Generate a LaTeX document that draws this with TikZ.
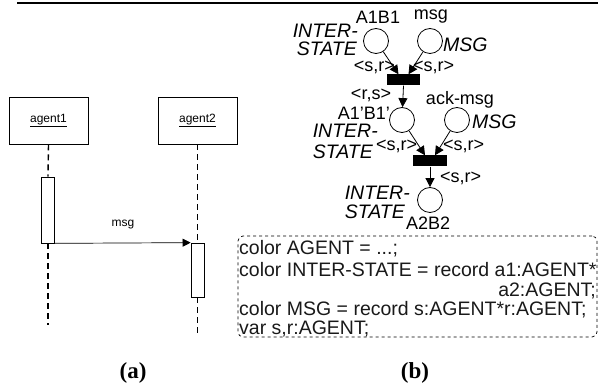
\documentclass[tikz,border=0pt]{standalone}
\usepackage{fontspec}
\setmainfont{Liberation Sans}
\newfontfamily\capfont{Liberation Serif}
\usetikzlibrary{arrows.meta}
\begin{document}
\begin{tikzpicture}[x=1pt,y=-1pt,
  lbl/.style={inner sep=0pt, font=\fontsize{18}{18}\selectfont},
  typ/.style={inner sep=0pt, font=\fontsize{19.5}{19.5}\selectfont\itshape},
  place/.style={draw, circle, minimum size=25pt, inner sep=0pt, line width=0.8pt},
  trans/.style={fill=black, minimum height=11pt, inner sep=0pt},
  arc/.style={line width=0.8pt, -{Triangle[length=9pt,width=9pt]}},
  obj/.style={draw, minimum width=79pt, minimum height=47pt, inner sep=0pt, line width=0.7pt, font=\fontsize{12}{12}\selectfont},
  act/.style={draw, fill=white, minimum width=13pt, inner sep=0pt, line width=0.7pt},
  life/.style={line width=1.4pt, dash pattern=on 6pt off 4pt},
  code/.style={inner sep=0pt, font=\fontsize{19.5}{19.5}\selectfont, text=black!90},
  captxt/.style={inner sep=0pt, font=\capfont\bfseries\fontsize{23}{23}\selectfont}
]
\useasboundingbox (0,0) rectangle (598,387);
% top rule
\coordinate (r0) at (17,3);
\coordinate (r1) at (598,3);
\draw[line width=2pt] (r0) -- (r1);

% ---------- (a) sequence diagram ----------
\node[obj] (ag1) at (48.5,120.5) {\underline{agent1}};
\node[obj] (ag2) at (197.5,120.5) {\underline{agent2}};
\node[act, minimum height=66pt] (act1) at (48,210) {};
\node[act, minimum height=54pt] (act2) at (197.5,270) {};
\coordinate (end1) at (48,325);
\coordinate (end2) at (197.5,337);
\draw[life] (ag1.south) -- (act1.north);
\draw[life] (act1.south) -- (end1);
\draw[life] (ag2.south) -- (act2.north);
\draw[life] (act2.south) -- (end2);
\draw[line width=0.7pt, -{Triangle[length=8pt,width=8pt]}] (act1.south east) -- (act2.north west);
\node[inner sep=0pt, font=\fontsize{12}{12}\selectfont] (msglbl) at (123,225) {msg};
\node[captxt] (capa) at (133,373) {(a)};

% ---------- (b) Petri net ----------
\node[place] (p1) at (376,41) {};
\node[place] (p2) at (430,41) {};
\node[trans, minimum width=33pt] (t1) at (403.5,80) {};
\node[place] (p3) at (402,120) {};
\node[place] (p4) at (457,120) {};
\node[trans, minimum width=34pt] (t2) at (430,161) {};
\node[place] (p5) at (430,200) {};

\draw[arc] (p1) -- ([xshift=-5pt]t1.north);
\draw[arc] (p2) -- ([xshift=5pt]t1.north);
\draw[arc] (t1.south) -- (p3);
\draw[arc] (p3) -- ([xshift=-5pt]t2.north);
\draw[arc] (p4) -- ([xshift=5pt]t2.north);
\draw[arc] (t2.south) -- (p5);

\node[lbl] (l1) at (378,17) {A1B1};
\node[lbl] (l2) at (431,17) {msg};
\node[typ, anchor=east] (ty1a) at (358,31) {INTER-};
\node[typ, anchor=east] (ty1b) at (357,49) {STATE};
\node[typ, anchor=west] (ty2) at (443,45) {MSG};
\node[lbl, anchor=east] (e1) at (395,67) {<s,r>};
\node[lbl, anchor=west] (e2) at (413,67) {<s,r>};
\node[lbl] (e3) at (371,95) {<r,s>};
\node[lbl] (l4) at (460,100) {ack-msg};
\node[lbl, anchor=east] (l3) at (390,113) {A1'B1'};
\node[typ, anchor=west] (ty4) at (472,122) {MSG};
\node[typ, anchor=east] (ty3a) at (378,131) {INTER-};
\node[typ, anchor=east] (ty3b) at (373,152) {STATE};
\node[lbl, anchor=west] (e4) at (376,146) {<s,r>};
\node[lbl, anchor=west] (e5) at (443,146) {<s,r>};
\node[lbl, anchor=west] (e6) at (440,178) {<s,r>};
\node[typ, anchor=east] (ty5a) at (410,193) {INTER-};
\node[typ, anchor=east] (ty5b) at (405,212) {STATE};
\node[lbl, anchor=west] (l5) at (406,223) {A2B2};

% declarations box
\node[draw, dashed, rounded corners=5pt, line width=0.7pt, minimum width=359pt, minimum height=101pt, inner sep=0pt] (decl) at (417.5,286.5) {};
\node[code, anchor=west] (c1) at (239,249) {color AGENT = ...;};
\node[code, anchor=west] (c2) at (239,270) {color INTER-STATE = record a1:AGENT*};
\node[code, anchor=east] (c3) at (596,291) {a2:AGENT;};
\node[code, anchor=west] (c4) at (239,310) {color MSG = record s:AGENT*r:AGENT;};
\node[code, anchor=west] (c5) at (239,329) {var s,r:AGENT;};
\node[captxt] (capb) at (415,373) {(b)};
\end{tikzpicture}
\end{document}
